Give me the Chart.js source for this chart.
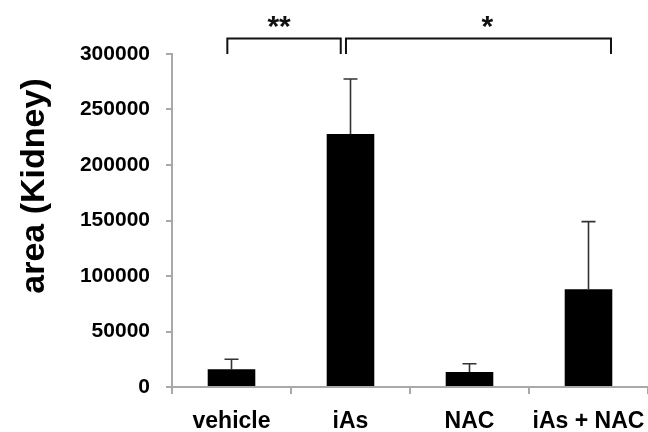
<!DOCTYPE html>
<html>
<head>
<meta charset="utf-8">
<style>
  html, body { margin: 0; padding: 0; background: #fff; }
  #wrap { width: 648px; height: 432px; }
</style>
<script src="https://cdn.jsdelivr.net/npm/chart.js@4.4.1/dist/chart.umd.min.js"></script>
</head>
<body>
<div id="wrap"><canvas id="grafico" width="648" height="432"></canvas></div>
<script>
// Dados
const categorias = ['vehicle', 'iAs', 'NAC', 'iAs + NAC'];
const medias = [16000, 228000, 13500, 88000];
const erros = [9000, 49500, 7500, 61000];
const ticksY = [0, 50000, 100000, 150000, 200000, 250000, 300000];
const tituloY = 'area (Kidney)';

// Colchetes de significância (posições em índice de categoria)
const colchetes = [
  { de: -0.035, ate: 0.918, texto: '**', textoEm: 0.40 },
  { de: 0.962, ate: 3.189, texto: '*', textoEm: 2.15 }
];
const colcheteTopo = 314000;
const colcheteBase = 300000;

const cinzaEixo = '#a9a9a9';

// Barras de erro (só para cima)
const errorBars = {
  id: 'errorBars',
  afterDatasetsDraw(chart) {
    const { ctx, scales: { y } } = chart;
    const meta = chart.getDatasetMeta(0);
    ctx.save();
    ctx.strokeStyle = '#333';
    ctx.lineWidth = 1.6;
    meta.data.forEach((bar, i) => {
      const topo = y.getPixelForValue(medias[i] + erros[i]);
      ctx.beginPath();
      ctx.moveTo(bar.x, bar.y);
      ctx.lineTo(bar.x, topo);
      ctx.moveTo(bar.x - 7, topo);
      ctx.lineTo(bar.x + 7, topo);
      ctx.stroke();
    });
    ctx.restore();
  }
};

// Colchetes, asteriscos e título do eixo Y
const anotacoes = {
  id: 'anotacoes',
  afterDraw(chart) {
    const { ctx, scales: { x, y } } = chart;
    ctx.save();
    ctx.strokeStyle = '#111';
    ctx.lineWidth = 2;
    ctx.fillStyle = '#111';
    const yt = y.getPixelForValue(colcheteTopo);
    const yb = y.getPixelForValue(colcheteBase);
    colchetes.forEach(c => {
      const x1 = x.getPixelForValue(c.de);
      const x2 = x.getPixelForValue(c.ate);
      ctx.beginPath();
      ctx.moveTo(x1, yb);
      ctx.lineTo(x1, yt);
      ctx.lineTo(x2, yt);
      ctx.lineTo(x2, yb);
      ctx.stroke();
      ctx.font = 'bold 30px "Liberation Sans", Arial, sans-serif';
      ctx.textAlign = 'center';
      ctx.textBaseline = 'alphabetic';
      ctx.fillText(c.texto, x.getPixelForValue(c.textoEm), yt - 2);
    });

    // Título do eixo Y
    ctx.fillStyle = '#000';
    ctx.translate(44, 186);
    ctx.rotate(-Math.PI / 2);
    ctx.font = 'bold 34px "Liberation Sans", Arial, sans-serif';
    ctx.textAlign = 'center';
    ctx.textBaseline = 'alphabetic';
    ctx.fillText(tituloY, 0, 0);
    ctx.restore();
  }
};

const ctx = document.getElementById('grafico').getContext('2d');

new Chart(ctx, {
  type: 'bar',
  data: {
    labels: categorias,
    datasets: [{
      data: medias,
      backgroundColor: '#000',
      borderWidth: 0,
      barPercentage: 0.4,
      categoryPercentage: 1
    }]
  },
  options: {
    responsive: false,
    animation: false,
    events: [],
    layout: { padding: { top: 54, left: 0, right: 0, bottom: 0 } },
    plugins: {
      legend: { display: false },
      tooltip: { enabled: false }
    },
    scales: {
      x: {
        offset: true,
        afterFit: s => {
          s.height = 45;
          s.paddingLeft = 0;
          s.paddingRight = 0;
        },
        border: { color: cinzaEixo, width: 2 },
        grid: {
          offset: true,
          drawOnChartArea: false,
          drawTicks: true,
          tickLength: 7,
          color: cinzaEixo,
          lineWidth: 2
        },
        ticks: {
          color: '#000',
          padding: 14,
          maxRotation: 0,
          font: { family: '"Liberation Sans", Arial, sans-serif', size: 23, weight: 'bold' }
        }
      },
      y: {
        min: 0,
        max: 300000,
        afterFit: s => { s.width = 172; },
        afterBuildTicks: s => { s.ticks = ticksY.map(v => ({ value: v })); },
        border: { color: cinzaEixo, width: 2 },
        grid: {
          drawOnChartArea: false,
          drawTicks: true,
          tickLength: 6,
          color: cinzaEixo,
          lineWidth: 2
        },
        ticks: {
          color: '#000',
          padding: 16,
          callback: v => String(v),
          font: { family: '"Liberation Sans", Arial, sans-serif', size: 21, weight: 'bold' }
        }
      }
    }
  },
  plugins: [errorBars, anotacoes]
});
</script>
</body>
</html>
